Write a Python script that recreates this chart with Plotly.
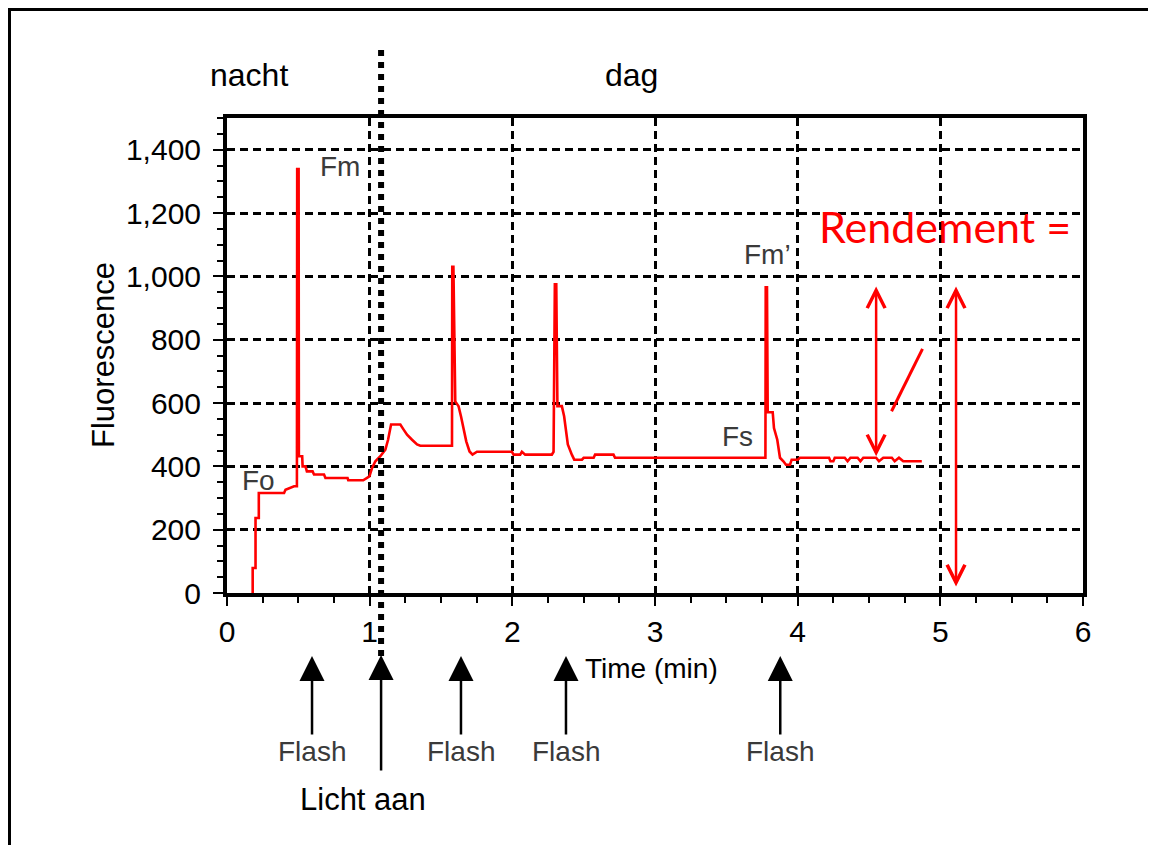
import plotly.graph_objects as go

# ---------------- data ----------------
time_min = [0.18, 0.18, 0.20, 0.20, 0.223, 0.223, 0.40, 0.41, 0.47, 0.490, 0.492, 0.502, 0.504,
            0.527, 0.53, 0.55, 0.56, 0.60, 0.61, 0.68, 0.69, 0.845, 0.85, 0.955,
            0.998, 1.017, 1.04, 1.075, 1.11, 1.129, 1.15, 1.215, 1.238, 1.262, 1.297, 1.332, 1.355,
            1.577, 1.579, 1.587, 1.600, 1.623, 1.64, 1.658, 1.677, 1.70, 1.721, 1.752, 1.997,
            2.009, 2.055, 2.067, 2.09, 2.277, 2.289, 2.298, 2.308, 2.316, 2.347, 2.363, 2.375,
            2.389, 2.417, 2.434, 2.488, 2.50, 2.57, 2.58, 2.709, 2.72, 3.774,
            3.776, 3.785, 3.790, 3.825, 3.834, 3.857, 3.876, 3.90, 3.918, 3.946, 3.958, 4.0,
            4.016, 4.22, 4.23, 4.25, 4.26, 4.33, 4.35, 4.37, 4.42, 4.44, 4.46, 4.55, 4.57,
            4.60, 4.66, 4.68, 4.71, 4.74, 4.87]
fluorescence = [0, 79, 79, 237, 237, 316, 316, 326, 337, 337, 1339, 1339, 432,
                432, 400, 400, 384, 384, 374, 374, 363, 363, 356, 356,
                368, 395, 416, 432, 453, 484, 532, 532, 516, 500, 484, 469, 465,
                465, 1030, 1030, 605, 590, 558, 521, 479, 447, 437, 446, 446,
                437, 437, 446, 437, 437, 446, 975, 975, 590, 590, 558, 516,
                469, 437, 421, 421, 427, 427, 437, 437, 427, 427,
                965, 965, 571, 571, 521, 484, 427, 416, 405, 405, 421, 421,
                427, 427, 416, 416, 427, 427, 416, 427, 427, 416, 427, 427, 416,
                427, 427, 416, 427, 416, 416]

x_ticks = [0, 1, 2, 3, 4, 5, 6]
y_ticks = [0, 200, 400, 600, 800, 1000, 1200, 1400]

flash_times = [0.596, 1.64, 2.376, 3.878]
light_on_time = 1.08

# peak labels (time, fluorescence)
label_texts = ["Fm", "Fo", "Fs", "Fm’"]
label_t = [0.79, 0.22, 3.575, 3.79]
label_v = [1347, 356, 495, 1069]

# yield arrows: (time, bottom, top)
yield_arrow_t = [4.55, 5.11]
yield_arrow_bottom = [427, 16]
yield_arrow_top = [968, 968]
slash_t = [4.658, 4.875]
slash_v = [574, 771]

# ---------------- layout helpers ----------------
OFF = 8  # page body margin
W, H = 1156 - OFF, 845 - OFF
L, R, T, B = 227, 1083, 118, 593   # plot area in window pixels


def px(xp):
    return (xp - L) / (R - L)


def py(yp):
    return (B - yp) / (B - T)


FONT = "Liberation Sans, Arial, sans-serif"

fig = go.Figure()
fig.add_trace(go.Scatter(x=time_min, y=fluorescence, mode="lines",
                         line=dict(color="#ff0000", width=2.6), showlegend=False,
                         hoverinfo="skip"))

grid_dash = "8px,5px"
fig.update_layout(
    width=W, height=H,
    margin=dict(l=L - OFF, r=W - (R - OFF), t=T - OFF, b=H - (B - OFF), pad=0),
    paper_bgcolor="white", plot_bgcolor="white",
    showlegend=False,
    font=dict(family=FONT, size=28, color="black"),
    xaxis=dict(range=[0, 6], tickvals=x_ticks, ticktext=[str(v) for v in x_ticks],
               showgrid=True, gridcolor="black", gridwidth=2.5, griddash=grid_dash,
               zeroline=False, showline=True, linecolor="black", linewidth=4, mirror=True,
               ticks="outside", ticklen=9, tickwidth=2, tickcolor="black",
               minor=dict(dtick=0.25, ticks="outside", ticklen=6, tickwidth=2,
                          tickcolor="black", showgrid=False),
               tickfont=dict(family=FONT, size=30, color="black")),
    yaxis=dict(range=[0, 1500], tickvals=y_ticks, tickformat=",d",
               showgrid=True, gridcolor="black", gridwidth=2.5, griddash=grid_dash,
               zeroline=False, showline=True, linecolor="black", linewidth=4, mirror=True,
               ticks="outside", ticklen=10, tickwidth=2, tickcolor="black",
               ticklabelstandoff=6,
               minor=dict(dtick=50, ticks="outside", ticklen=6, tickwidth=2,
                          tickcolor="black", showgrid=False),
               tickfont=dict(family=FONT, size=30, color="black")),
)

shapes = []
# outer frame (top and left)
shapes.append(dict(type="line", xref="paper", yref="paper", x0=px(9), x1=px(1170),
                   y0=py(9.5), y1=py(9.5), line=dict(color="black", width=3)))
shapes.append(dict(type="line", xref="paper", yref="paper", x0=px(9.5), x1=px(9.5),
                   y0=py(8), y1=py(860), line=dict(color="black", width=3)))
# thick dotted "light on" line
shapes.append(dict(type="line", xref="x", yref="paper", x0=light_on_time, x1=light_on_time,
                   y0=py(680), y1=py(48), line=dict(color="black", width=6, dash="dot")))
# red slash
shapes.append(dict(type="line", xref="x", yref="y", x0=slash_t[0], x1=slash_t[1],
                   y0=slash_v[0], y1=slash_v[1], line=dict(color="#ff0000", width=3)))
fig.update_layout(shapes=shapes)

ann = []
# yield double arrows
for t, lo, hi in zip(yield_arrow_t, yield_arrow_bottom, yield_arrow_top):
    ann.append(dict(x=t, y=hi, xref="x", yref="y", ax=t, ay=lo, axref="x", ayref="y",
                    text="", showarrow=True, arrowside="end+start", arrowhead=5,
                    startarrowhead=5, arrowsize=1.4, startarrowsize=1.4, arrowwidth=2.5,
                    arrowcolor="#ff0000"))
# flash arrows + labels
for t in flash_times:
    ann.append(dict(x=t, y=py(656), xref="x", yref="paper", ax=0, ay=80,
                    text="", showarrow=True, arrowhead=2, arrowsize=2, arrowwidth=2.5,
                    arrowcolor="black"))
    ann.append(dict(x=t, y=py(751), xref="x", yref="paper", text="Flash",
                    showarrow=False, font=dict(family=FONT, size=28, color="#3a3a3a"),
                    xanchor="center", yanchor="middle"))
# light on arrow
ann.append(dict(x=light_on_time, y=py(655), xref="x", yref="paper", ax=0, ay=117,
                text="", showarrow=True, arrowhead=2, arrowsize=2, arrowwidth=2.5,
                arrowcolor="black"))
ann.append(dict(x=px(363), y=py(799), xref="paper", yref="paper", text="Licht aan",
                showarrow=False, font=dict(family=FONT, size=31, color="black"),
                xanchor="center", yanchor="middle"))
# peak labels
for txt, t, v in zip(label_texts, label_t, label_v):
    ann.append(dict(x=t, y=v, xref="x", yref="y", text=txt, showarrow=False,
                    font=dict(family=FONT, size=28, color="#3a3a3a"),
                    xanchor="center", yanchor="middle"))
# top labels
ann.append(dict(x=px(249), y=py(75), xref="paper", yref="paper", text="nacht",
                showarrow=False, font=dict(family=FONT, size=32, color="black"),
                xanchor="center", yanchor="middle"))
ann.append(dict(x=px(631), y=py(75), xref="paper", yref="paper", text="dag",
                showarrow=False, font=dict(family=FONT, size=32, color="black"),
                xanchor="center", yanchor="middle"))
# axis titles
ann.append(dict(x=px(583), y=py(668), xref="paper", yref="paper", text="Time (min)",
                showarrow=False, font=dict(family=FONT, size=28, color="black"),
                xanchor="left", yanchor="middle"))
ann.append(dict(x=px(103), y=py(355), xref="paper", yref="paper", text="Fluorescence",
                showarrow=False, textangle=-90, font=dict(family=FONT, size=31, color="black"),
                xanchor="center", yanchor="middle"))
# red formula text
ann.append(dict(x=px(945), y=py(226), xref="paper", yref="paper", text="Rendement =",
                showarrow=False, font=dict(family="Lato, sans-serif", size=43, color="#ff0000"),
                xanchor="center", yanchor="middle"))
fig.update_layout(annotations=ann)

fig.write_html("out.html")
